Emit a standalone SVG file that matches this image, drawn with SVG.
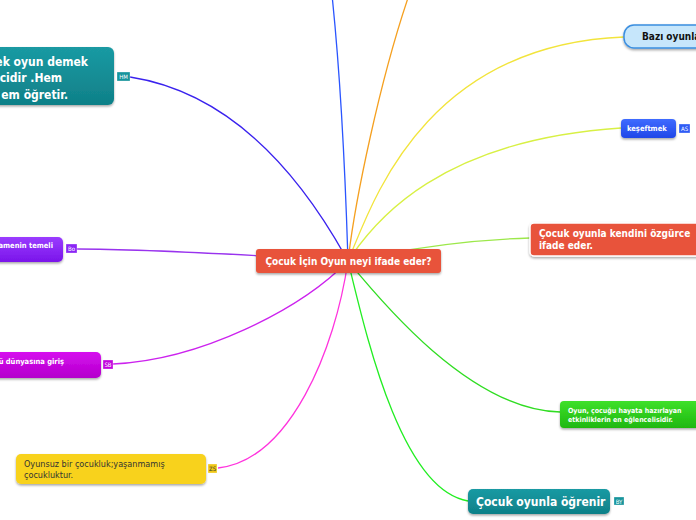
<svg xmlns="http://www.w3.org/2000/svg" width="696" height="520" viewBox="0 0 696 520">
<defs>
<filter id="sh" x="-10%" y="-20%" width="130%" height="160%">
<feDropShadow dx="0" dy="1.5" stdDeviation="1.2" flood-color="#000" flood-opacity="0.35"/>
</filter>
<linearGradient id="gTeal" x1="0" y1="0" x2="0" y2="1"><stop offset="0" stop-color="#1a9aa3"/><stop offset="1" stop-color="#0f8088"/></linearGradient>
<linearGradient id="gPurple" x1="0" y1="0" x2="0" y2="1"><stop offset="0" stop-color="#9a3cff"/><stop offset="1" stop-color="#7a14ea"/></linearGradient>
<linearGradient id="gMag" x1="0" y1="0" x2="0" y2="1"><stop offset="0" stop-color="#d60cef"/><stop offset="1" stop-color="#b400cc"/></linearGradient>
<linearGradient id="gGreen" x1="0" y1="0" x2="0" y2="1"><stop offset="0" stop-color="#3ee02a"/><stop offset="1" stop-color="#1fb810"/></linearGradient>
<linearGradient id="gBlue" x1="0" y1="0" x2="0" y2="1"><stop offset="0" stop-color="#3f6bff"/><stop offset="1" stop-color="#1f47e8"/></linearGradient>
</defs>
<style>
text{font-family:"DejaVu Sans Condensed","DejaVu Sans","Liberation Sans",sans-serif;font-weight:bold;}
.w{fill:#fff;}
.c{fill:none;stroke-width:1.3;}
.tag{font-size:6px;font-weight:normal;fill:#fff;}
.tagr{stroke:#fff;stroke-width:0.5;stroke-opacity:0.6;}
</style>
<g id="connectors">
<path class="c" stroke="#3a22ee" d="M348,261 Q258,97 130,77"/>
<path class="c" stroke="#2a55ff" d="M348,261 Q343,100 332,-5"/>
<path class="c" stroke="#f5a020" d="M348,261 C355,200 380,80 409,-5"/>
<path class="c" stroke="#f2e43c" d="M348,261 C370,210 420,45 624,37"/>
<path class="c" stroke="#d8f044" d="M348,261 C375,220 440,140 621,128"/>
<path class="c" stroke="#9ce84a" d="M348,261 C400,250 460,240 530,238"/>
<path class="c" stroke="#30dd22" d="M348,261 C380,300 470,410 560,412"/>
<path class="c" stroke="#22ee22" d="M348,261 C365,330 400,490 468,501"/>
<path class="c" stroke="#ff33dd" d="M348,261 C335,350 290,460 218,468"/>
<path class="c" stroke="#cc22ee" d="M348,261 C300,310 200,360 113,364"/>
<path class="c" stroke="#9933ee" d="M348,261 C250,255 150,249 77,249"/>
</g>
<g id="node-hm">
<rect x="-10" y="47" width="124" height="58" rx="6" fill="url(#gTeal)" filter="url(#sh)"/>
<text class="w" font-size="12" text-anchor="end" x="88" y="66">ek oyun demek</text>
<text class="w" font-size="12" text-anchor="end" x="62" y="82">icidir .Hem</text>
<text class="w" font-size="12" text-anchor="end" x="68" y="99">em öğretir.</text>
<rect class="tagr" x="117" y="72" width="13" height="9" fill="#17949c"/>
<text class="tag" x="123.5" y="79" text-anchor="middle">HM</text>
</g>
<g id="node-bo">
<rect x="-10" y="237" width="73" height="25" rx="5" fill="url(#gPurple)" filter="url(#sh)"/>
<text class="w" font-size="7.5" text-anchor="end" x="53" y="248">amenin temeli</text>
<rect class="tagr" x="66" y="244" width="11" height="9" fill="#8a25f5"/>
<text class="tag" x="71.5" y="251" text-anchor="middle">Bo</text>
</g>
<g id="node-sb">
<rect x="-10" y="352" width="111" height="26" rx="5" fill="url(#gMag)" filter="url(#sh)"/>
<text class="w" font-size="7.5" text-anchor="end" x="64" y="364">ü dünyasına giriş</text>
<rect class="tagr" x="103" y="360" width="10" height="9" fill="#c205dd"/>
<text class="tag" x="108" y="367" text-anchor="middle">SB</text>
</g>
<g id="node-zs">
<rect x="16" y="454" width="190" height="30" rx="5" fill="#f8d21f" filter="url(#sh)"/>
<text font-size="9" font-weight="normal" style="font-weight:normal" fill="#333" x="24" y="467">Oyunsuz bir çocukluk;yaşanmamış</text>
<text font-size="9" style="font-weight:normal" fill="#333" x="24" y="478">çocukluktur.</text>
<rect class="tagr" x="208" y="464" width="9" height="9" fill="#f0c818"/>
<text class="tag" x="212.5" y="471" text-anchor="middle" style="fill:#333">ZS</text>
</g>
<g id="node-center">
<rect x="256" y="249" width="185" height="24" rx="3" fill="#e8523b" filter="url(#sh)"/>
<text class="w" font-size="10" text-anchor="middle" x="348.5" y="265">Çocuk İçin Oyun neyi ifade eder?</text>
</g>
<g id="node-kendini">
<rect x="530" y="223" width="175" height="33" rx="4" fill="#e8523b" stroke="#fff" stroke-width="1.5" filter="url(#sh)"/>
<text class="w" font-size="10" x="539" y="237">Çocuk oyunla kendini özgürce</text>
<text class="w" font-size="10" x="539" y="249">ifade eder.</text>
</g>
<g id="node-oyun">
<rect x="560" y="401" width="140" height="27" rx="4" fill="url(#gGreen)" filter="url(#sh)"/>
<text class="w" font-size="7" x="568" y="413">Oyun, çocuğu hayata hazırlayan</text>
<text class="w" font-size="7" x="568" y="422">etkinliklerin en eğlencelisidir.</text>
</g>
<g id="node-ogrenir">
<rect x="468" y="489" width="142" height="25" rx="5" fill="url(#gTeal)" filter="url(#sh)"/>
<text class="w" font-size="12" x="476" y="506">Çocuk oyunla öğrenir</text>
<rect class="tagr" x="614" y="497" width="10" height="8" fill="#17949c"/>
<text class="tag" x="619" y="503.5" text-anchor="middle">BY</text>
</g>
<g id="node-bazi">
<rect x="624" y="25" width="90" height="23" rx="10" fill="#c6e6fb" stroke="#3a8ee0" stroke-width="1.5" filter="url(#sh)"/>
<text font-size="10" fill="#111" x="642" y="40">Bazı oyunla</text>
</g>
<g id="node-kesef">
<rect x="621" y="119" width="55" height="19" rx="4" fill="url(#gBlue)" filter="url(#sh)"/>
<text class="w" font-size="7.5" x="627" y="131">keşeftmek</text>
<rect class="tagr" x="679" y="124" width="11" height="9" fill="#2f5cf5"/>
<text class="tag" x="684.5" y="131" text-anchor="middle">AS</text>
</g>
</svg>
